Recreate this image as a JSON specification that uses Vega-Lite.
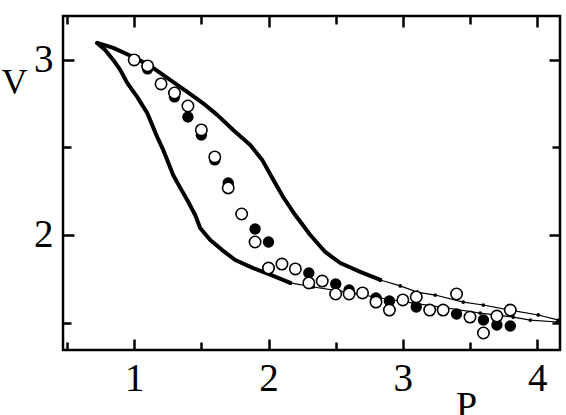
{
  "$schema": "https://vega.github.io/schema/vega-lite/v6.json",
  "autosize": "none",
  "width": 497,
  "height": 334,
  "padding": {"left": 63, "top": 16, "right": 6, "bottom": 65},
  "background": "white",
  "config": {
    "view": {"stroke": "black", "strokeWidth": 2.5},
    "axis": {"domain": false, "grid": false, "tickColor": "black", "tickWidth": 2.5, "labelFont": "Liberation Serif", "labelColor": "black", "titleFont": "Liberation Serif", "titleColor": "black", "titleFontWeight": "normal"}
  },
  "datasets": {
    "curves": [
      {"s": "up", "P": 0.7245, "V": 3.097},
      {"s": "up", "P": 0.844, "V": 3.069},
      {"s": "up", "P": 0.993, "V": 3.017},
      {"s": "up", "P": 1.119, "V": 2.966},
      {"s": "up", "P": 1.246, "V": 2.897},
      {"s": "up", "P": 1.395, "V": 2.817},
      {"s": "up", "P": 1.529, "V": 2.743},
      {"s": "up", "P": 1.618, "V": 2.686},
      {"s": "up", "P": 1.737, "V": 2.6},
      {"s": "up", "P": 1.864, "V": 2.514},
      {"s": "up", "P": 1.953, "V": 2.429},
      {"s": "up", "P": 2.028, "V": 2.326},
      {"s": "up", "P": 2.109, "V": 2.217},
      {"s": "up", "P": 2.199, "V": 2.114},
      {"s": "up", "P": 2.311, "V": 2.0},
      {"s": "up", "P": 2.422, "V": 1.903},
      {"s": "up", "P": 2.534, "V": 1.84},
      {"s": "up", "P": 2.683, "V": 1.789},
      {"s": "up", "P": 2.832, "V": 1.743},
      {"s": "low", "P": 0.7245, "V": 3.097},
      {"s": "low", "P": 0.784, "V": 3.057},
      {"s": "low", "P": 0.844, "V": 3.0},
      {"s": "low", "P": 0.896, "V": 2.943},
      {"s": "low", "P": 0.948, "V": 2.869},
      {"s": "low", "P": 1.022, "V": 2.789},
      {"s": "low", "P": 1.097, "V": 2.697},
      {"s": "low", "P": 1.134, "V": 2.629},
      {"s": "low", "P": 1.171, "V": 2.56},
      {"s": "low", "P": 1.216, "V": 2.486},
      {"s": "low", "P": 1.246, "V": 2.429},
      {"s": "low", "P": 1.29, "V": 2.343},
      {"s": "low", "P": 1.343, "V": 2.269},
      {"s": "low", "P": 1.395, "V": 2.2},
      {"s": "low", "P": 1.454, "V": 2.114},
      {"s": "low", "P": 1.491, "V": 2.04},
      {"s": "low", "P": 1.566, "V": 1.971},
      {"s": "low", "P": 1.655, "V": 1.914},
      {"s": "low", "P": 1.752, "V": 1.857},
      {"s": "low", "P": 1.886, "V": 1.811},
      {"s": "low", "P": 2.035, "V": 1.766},
      {"s": "low", "P": 2.162, "V": 1.726},
      {"s": "upTail", "P": 2.832, "V": 1.743},
      {"s": "upTail", "P": 2.981, "V": 1.709},
      {"s": "upTail", "P": 3.107, "V": 1.674},
      {"s": "upTail", "P": 3.241, "V": 1.657},
      {"s": "upTail", "P": 3.45, "V": 1.617},
      {"s": "upTail", "P": 3.599, "V": 1.6},
      {"s": "upTail", "P": 3.8, "V": 1.571},
      {"s": "upTail", "P": 4.008, "V": 1.543},
      {"s": "upTail", "P": 4.16, "V": 1.514},
      {"s": "lowTail", "P": 2.162, "V": 1.726},
      {"s": "lowTail", "P": 2.333, "V": 1.703},
      {"s": "lowTail", "P": 2.586, "V": 1.674},
      {"s": "lowTail", "P": 2.832, "V": 1.64},
      {"s": "lowTail", "P": 3.077, "V": 1.611},
      {"s": "lowTail", "P": 3.331, "V": 1.583},
      {"s": "lowTail", "P": 3.576, "V": 1.554},
      {"s": "lowTail", "P": 3.822, "V": 1.531},
      {"s": "lowTail", "P": 3.949, "V": 1.514},
      {"s": "lowTail", "P": 4.15, "V": 1.503}
    ],
    "filled": [
      {"P": 1.1, "V": 2.949},
      {"P": 1.3, "V": 2.789},
      {"P": 1.4, "V": 2.674},
      {"P": 1.5, "V": 2.571},
      {"P": 1.6, "V": 2.429},
      {"P": 1.7, "V": 2.297},
      {"P": 1.9, "V": 2.034},
      {"P": 2.0, "V": 1.96},
      {"P": 2.3, "V": 1.783},
      {"P": 2.5, "V": 1.72},
      {"P": 2.6, "V": 1.686},
      {"P": 2.8, "V": 1.64},
      {"P": 2.9, "V": 1.623},
      {"P": 3.1, "V": 1.589},
      {"P": 3.4, "V": 1.549},
      {"P": 3.6, "V": 1.514},
      {"P": 3.7, "V": 1.486},
      {"P": 3.8, "V": 1.48}
    ],
    "open": [
      {"P": 1.0, "V": 3.0},
      {"P": 1.1, "V": 2.966},
      {"P": 1.2, "V": 2.863},
      {"P": 1.3, "V": 2.811},
      {"P": 1.4, "V": 2.737},
      {"P": 1.5, "V": 2.6},
      {"P": 1.6, "V": 2.446},
      {"P": 1.7, "V": 2.269},
      {"P": 1.8, "V": 2.12},
      {"P": 1.9, "V": 1.96},
      {"P": 2.0, "V": 1.811},
      {"P": 2.1, "V": 1.834},
      {"P": 2.2, "V": 1.806},
      {"P": 2.3, "V": 1.726},
      {"P": 2.4, "V": 1.737},
      {"P": 2.5, "V": 1.663},
      {"P": 2.6, "V": 1.663},
      {"P": 2.7, "V": 1.669},
      {"P": 2.8, "V": 1.617},
      {"P": 2.9, "V": 1.571},
      {"P": 3.0, "V": 1.629},
      {"P": 3.1, "V": 1.646},
      {"P": 3.2, "V": 1.571},
      {"P": 3.3, "V": 1.571},
      {"P": 3.4, "V": 1.663},
      {"P": 3.5, "V": 1.531},
      {"P": 3.6, "V": 1.44},
      {"P": 3.7, "V": 1.537},
      {"P": 3.8, "V": 1.571}
    ]
  },
  "layer": [
    {
      "data": {"name": "curves"},
      "transform": [{"filter": "datum.s === 'up' || datum.s === 'low'"}],
      "mark": {"type": "line", "color": "black", "strokeWidth": 4, "strokeJoin": "round", "strokeCap": "round"},
      "encoding": {
        "x": {"field": "P", "type": "quantitative", "scale": {"domain": [0.47, 4.17], "nice": false, "zero": false},
          "axis": {"orient": "top", "title": null, "labels": false, "values": [0.5, 1, 1.5, 2, 2.5, 3, 3.5, 4],
            "tickSize": {"condition": {"test": "datum.value % 1 === 0", "value": -11}, "value": -8}}},
        "y": {"field": "V", "type": "quantitative", "scale": {"domain": [1.343, 3.251], "nice": false, "zero": false},
          "axis": {"orient": "right", "title": null, "labels": false, "values": [1.5, 2, 2.5, 3],
            "tickSize": {"condition": {"test": "datum.value % 1 === 0", "value": -11}, "value": -8}}},
        "detail": {"field": "s"}
      }
    },
    {
      "data": {"name": "curves"},
      "transform": [{"filter": "datum.s === 'upTail' || datum.s === 'lowTail'"}],
      "mark": {"type": "line", "color": "black", "strokeWidth": 1.2, "point": {"filled": true, "size": 14, "color": "black"}},
      "encoding": {
        "x": {"field": "P", "type": "quantitative", "axis": null},
        "y": {"field": "V", "type": "quantitative", "axis": null},
        "detail": {"field": "s"}
      }
    },
    {
      "data": {"name": "filled"},
      "mark": {"type": "point", "filled": true, "color": "black", "size": 130, "opacity": 1},
      "encoding": {
        "x": {"field": "P", "type": "quantitative", "axis": null},
        "y": {"field": "V", "type": "quantitative", "axis": null}
      }
    },
    {
      "data": {"name": "open"},
      "mark": {"type": "point", "filled": false, "fill": "white", "fillOpacity": 1, "stroke": "black", "strokeWidth": 1.6, "size": 130, "opacity": 1},
      "encoding": {
        "x": {"field": "P", "type": "quantitative",
          "axis": {"orient": "bottom", "title": "P", "values": [0.5, 1, 1.5, 2, 2.5, 3, 3.5, 4],
            "labelExpr": "datum.value % 1 === 0 ? format(datum.value, 'd') : ''",
            "labelFontSize": 39, "labelPadding": 20,
            "tickSize": {"condition": {"test": "datum.value % 1 === 0", "value": -11}, "value": -8},
            "titleFontSize": 38, "titleAnchor": "start", "titleAlign": "center", "titleX": 403, "titleY": 37, "titleBaseline": "top"}},
        "y": {"field": "V", "type": "quantitative",
          "axis": {"orient": "left", "title": "V", "values": [1.5, 2, 2.5, 3],
            "labelExpr": "datum.value % 1 === 0 ? format(datum.value, 'd') : ''",
            "labelFontSize": 39, "labelPadding": 21,
            "tickSize": {"condition": {"test": "datum.value % 1 === 0", "value": -11}, "value": -8},
            "titleFontSize": 36, "titleAngle": 0, "titleAlign": "center", "titleBaseline": "middle", "titleX": -49, "titleY": 66}}
      }
    }
  ],
  "resolve": {"axis": {"x": "independent", "y": "independent"}}
}
